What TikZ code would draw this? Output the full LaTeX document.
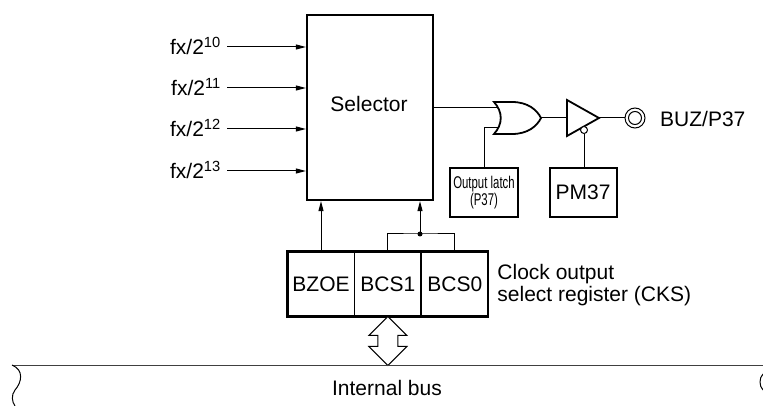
\documentclass[tikz,border=0pt]{standalone}
\usepackage{fontspec}
\setmainfont{Liberation Sans}
\usepackage{graphicx}
\usetikzlibrary{arrows.meta,positioning}
\tikzset{
  box/.style={draw, line width=2.2pt, inner sep=0pt},
  cell/.style={draw, line width=0.9pt, inner sep=0pt, minimum width=66pt, minimum height=64pt},
  wire/.style={line width=1pt},
  gate/.style={line width=1.8pt, line join=miter},
  inarrow/.style={wire, -{Triangle[length=10pt,width=5pt]}},
}
\begin{document}
\begin{tikzpicture}[x=1pt,y=-1pt,font=\fontsize{21}{22}\selectfont]
\useasboundingbox (0,0) rectangle (763,406);
\node[box, minimum width=126pt, minimum height=185pt] (sel) at (370,107.5) {};
\node[anchor=base, inner sep=0pt] (seltxt) at (369,112) {Selector};
\foreach \n/\y in {10/47,11/88,12/129,13/171}{
  \coordinate (in\n) at (227,\y);
  \draw[inarrow] (in\n) -- (sel.west |- in\n);
  \node[anchor=base east, inner sep=0pt] (lbl\n) at (221,\y+8) {fx/2\textsuperscript{\n}};
}
\coordinate (or1) at (498,108);
\coordinate (or2) at (498,128);
\coordinate (orout) at (541,118);
\draw[wire] (sel.east |- or1) -- (or1);
\draw[gate] (494,102) -- (512,102) .. controls (528,102) and (537,110) .. (orout)
  .. controls (537,126) and (528,134) .. (512,134) -- (494,134)
  .. controls (503,124) and (503,112) .. (494,102) -- cycle;
\node[box, line width=2pt, minimum width=68pt, minimum height=49pt, align=center,
  font=\fontsize{17}{17}\selectfont] (latch) at (484,192.5)
  {\scalebox{0.67}[1]{Output latch}\\\scalebox{0.67}[1]{(P37)}};
\draw[wire] (latch.north) |- (or2);
\coordinate (bufin) at (567,118);
\coordinate (bufout) at (599,118);
\draw[wire] (orout) -- (bufin);
\draw[gate] (567,100) -- (bufout) -- (567,136) -- cycle;
\node[circle, draw, wire, fill=white, inner sep=0pt, minimum size=7pt] (bub) at (584,130) {};
\node[box, line width=2pt, minimum width=67pt, minimum height=49pt] (pm) at (583,192.5) {PM37};
\draw[wire] (bub.south) -- (bub.south |- pm.north);
\node[circle, draw, wire, inner sep=0pt, minimum size=20pt] (pin) at (635,118) {};
\node[circle, draw, wire, inner sep=0pt, minimum size=13pt] (pinin) at (635,118) {};
\draw[wire] (bufout) -- (pin.west);
\node[anchor=base west, inner sep=0pt] (buz) at (660,127) {BUZ/P37};
\node[cell] (bzoe) at (321,284) {BZOE};
\node[cell, right=0pt of bzoe] (bcs1) {BCS1};
\node[cell, right=0pt of bcs1] (bcs0) {BCS0};
\draw[line width=2.2pt] (bzoe.north west) rectangle (bcs0.south east);
\node[right=9pt of bcs0, inner sep=0pt, align=left, yshift=-1pt] (cks) {Clock output\\select register (CKS)};
\draw[inarrow] (bzoe.north) -- (bzoe.north |- sel.south);
\coordinate (jn) at (420,234);
\draw[wire] (bcs1.north) |- (jn) -| (bcs0.north);
\fill (jn) circle (2.5pt);
\draw[inarrow] (jn) -- (jn |- sel.south);
\draw[wire, fill=white] (bcs1.south) -- ++(19,19) -- ++(-9,0) -- ++(0,11) -- ++(9,0)
  -- ++(-19,19) -- ++(-19,-19) -- ++(9,0) -- ++(0,-11) -- ++(-9,0) -- cycle;
\coordinate (busl) at (12,365);
\coordinate (busr) at (763,365);
\draw[wire, black!75] (busl) -- (busr);
\draw[wire] (busl) .. controls (24,370) and (22,382) .. (15,390) .. controls (11,395) and (12,402) .. (15,406);
\draw[wire] (763,374) .. controls (759,378) and (759,386) .. (763,390);
\node[anchor=base, inner sep=0pt] (bustxt) at (387,395) {Internal bus};
\end{tikzpicture}
\end{document}
